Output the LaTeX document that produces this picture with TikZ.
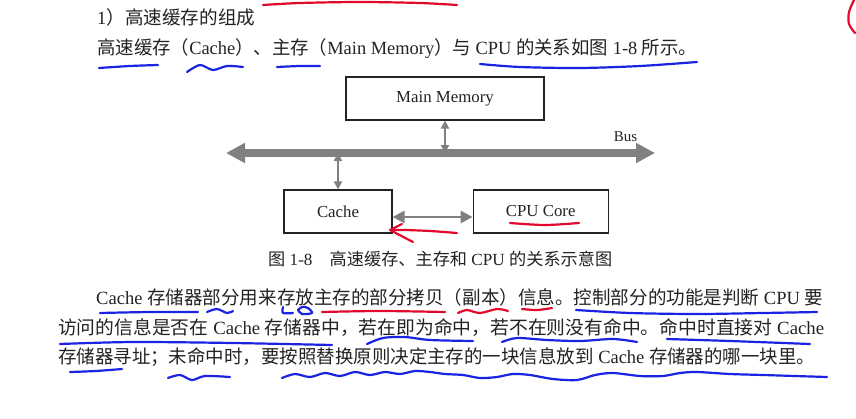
\documentclass[tikz,border=0pt]{standalone}
\usepackage{fontspec}
\usepackage{graphicx}
\usetikzlibrary{arrows.meta,positioning}
\setmainfont{Liberation Serif}
\newfontfamily\cjk{Noto Sans CJK SC}
\definecolor{printgray}{RGB}{35,35,35}
\definecolor{busgray}{RGB}{128,128,128}
\definecolor{inkblue}{RGB}{25,35,225}
\definecolor{inkred}{RGB}{225,10,45}
\newcommand{\fitline}[2]{\resizebox{#1}{\height}{#2}}

\begin{document}
\begin{tikzpicture}[x=1pt, y=-1pt,
    textline/.style={anchor=base west, inner sep=0pt, text=printgray, font=\fontsize{18.6}{20}\selectfont},
    unit/.style={draw=printgray, line width=1.2pt, minimum height=43pt, inner sep=0pt, text=printgray, font=\fontsize{16.8}{18}\selectfont},
    bus/.style={busgray, line width=7.5pt, {Triangle[width=19pt,length=19pt]}-{Triangle[width=19pt,length=19pt]}},
    link/.style={busgray, line width=2pt, {Triangle[width=8pt,length=8pt]}-{Triangle[width=8pt,length=8pt]}},
    wide link/.style={busgray, line width=2.8pt, {Triangle[width=12pt,length=12pt]}-{Triangle[width=12pt,length=12pt]}},
    blueink/.style={inkblue, line width=2.2pt, line cap=round, line join=round},
    redink/.style={inkred, line width=2.2pt, line cap=round, line join=round}]
  \fill[white] (0,0) rectangle (856,418);
  \useasboundingbox (0,0) rectangle (856,418);

  % printed text
  \node (heading) [textline] at (97,24) {\fitline{158pt}{1{\cjk ）高速缓存的组成}}};
  \node (intro) [textline] at (97,54) {\fitline{600pt}{{\cjk 高速缓存（}Cache{\cjk ）、主存（}Main Memory{\cjk ）与} CPU {\cjk 的关系如图} 1-8 {\cjk 所示。}}};

  % figure 1-8
  \node (memory) [unit, minimum width=198pt] at (445,98.5) {Main Memory};
  \node (cache) [unit, minimum width=108pt] at (338,211.5) {Cache};
  \node (core) [unit, minimum width=135pt, right=80pt of cache] {CPU Core};
  \coordinate (busL) at (226,153);
  \coordinate (busR) at (655,153);
  \node (buslabel) [text=printgray, inner sep=0pt, font=\fontsize{15}{16}\selectfont] at (625.5,136.5) {Bus};

  \draw[bus] (busL) -- (busR);
  \draw[link] (memory.south) -- (memory.south |- busL);
  \draw[link] (cache.north |- busL) -- (cache.north);
  \draw[wide link] ([yshift=-5.5pt]cache.east) -- ([yshift=-5.5pt]core.west);

  \node (caption) [textline, font=\fontsize{17}{19}\selectfont] at (268,265) {\fitline{344pt}{{\cjk 图} 1-8{\cjk 　高速缓存、主存和} CPU {\cjk 的关系示意图}}};

  \node (para1) [textline] at (96,304) {\fitline{727pt}{Cache {\cjk 存储器部分用来存放主存的部分拷贝（副本）信息。控制部分的功能是判断} CPU {\cjk 要}}};
  \node (para2) [textline] at (58,334) {\fitline{766pt}{{\cjk 访问的信息是否在} Cache {\cjk 存储器中，若在即为命中，若不在则没有命中。命中时直接对} Cache}};
  \node (para3) [textline] at (58,363) {\fitline{757pt}{{\cjk 存储器寻址；未命中时，要按照替换原则决定主存的一块信息放到} Cache {\cjk 存储器的哪一块里。}}};

  % red marks
  \draw[redink] plot[smooth] coordinates {(263,5) (300,3) (360,2) (420,3) (457,5)};
  \draw[redink] plot[smooth] coordinates {(854,0) (849,12) (849,24) (855,33)};
  \draw[redink] plot[smooth] coordinates {(510,223) (545,225) (579,223)};
  \draw[redink] plot[smooth] coordinates {(457,233) (430,231) (405,230) (391,230)};
  \draw[redink] (402,224) -- (390,230) -- (413,242);
  \draw[redink] plot[smooth] coordinates {(322,312) (380,311) (445,312)};
  \draw[redink] plot[smooth] coordinates {(458,313) (467,310) (480,313) (497,309) (508,311)};
  \draw[redink] plot[smooth] coordinates {(522,309) (537,310) (552,308)};

  % blue marks
  \draw[blueink] plot[smooth] coordinates {(99,68) (130,66) (158,65)};
  \draw[blueink] plot[smooth] coordinates {(187,72) (200,65) (213,70) (227,66) (243,67)};
  \draw[blueink] plot[smooth] coordinates {(277,67) (300,66) (320,66)};
  \draw[blueink] plot[smooth] coordinates {(480,64) (520,67) (580,68) (640,66) (697,62)};
  \draw[blueink] plot[smooth] coordinates {(100,313) (150,312) (198,312)};
  \draw[blueink] plot[smooth] coordinates {(207,312) (217,309) (227,313) (233,311)};
  \draw[blueink] plot[smooth] coordinates {(283,307) (283,313) (293,313)};
  \draw[blueink] plot[smooth] coordinates {(298,310) (302,307) (308,308) (312,313) (302,314) (298,310)};
  \draw[blueink] plot[smooth] coordinates {(576,310) (630,313) (697,314) (763,313) (817,312)};
  \draw[blueink] plot[smooth] coordinates {(60,344) (133,342) (233,343) (332,345)};
  \draw[blueink] plot[smooth] coordinates {(367,344) (383,338) (405,337) (430,340) (473,341)};
  \draw[blueink] plot[smooth] coordinates {(502,342) (517,338) (547,340) (580,341) (613,339) (637,342)};
  \draw[blueink] plot[smooth] coordinates {(667,339) (730,341) (810,344)};
  \draw[blueink] plot[smooth] coordinates {(70,372) (96,371) (122,369)};
  \draw[blueink] plot[smooth] coordinates {(168,378) (180,375) (192,380) (205,376) (230,377)};
  \draw[blueink] plot[smooth] coordinates {(282,378) (295,374) (310,377) (325,373) (340,376) (355,372) (370,375) (385,372) (400,374) (415,371) (430,372) (445,374) (463,375) (480,378) (497,377) (513,374) (530,375) (553,379) (577,380) (595,375) (613,373) (640,376) (663,376) (680,373) (697,372) (730,374) (763,375) (795,376) (827,377)};
\end{tikzpicture}
\end{document}
